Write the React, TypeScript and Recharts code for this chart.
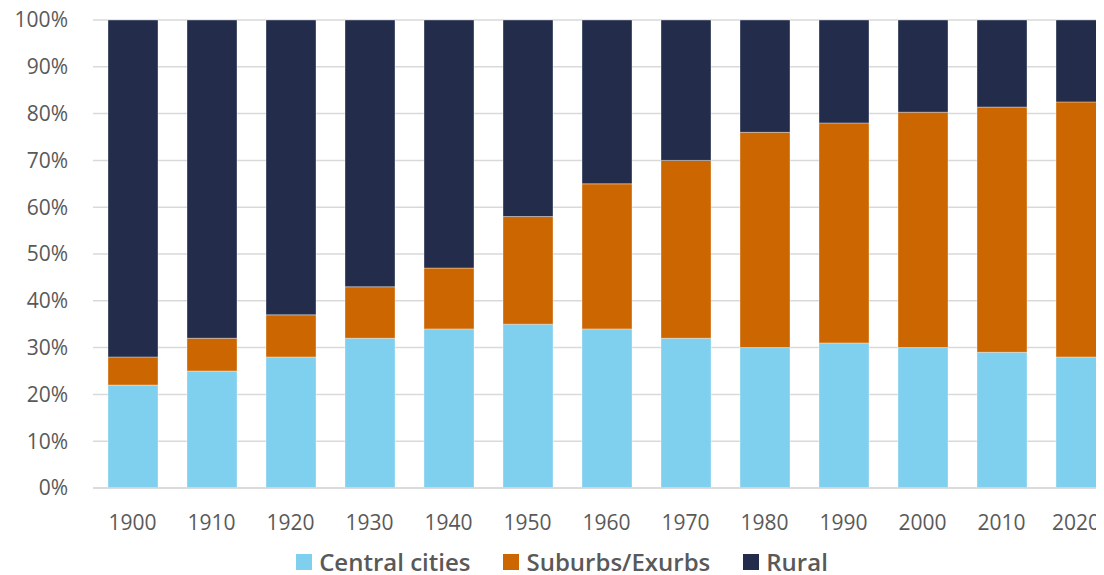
import { Bar, BarChart, CartesianGrid, Legend, XAxis, YAxis } from "recharts";

const YEARS = ["1900", "1910", "1920", "1930", "1940", "1950", "1960", "1970", "1980", "1990", "2000", "2010", "2020"];
const CENTRAL = [22, 25, 28, 32, 34, 35, 34, 32, 30, 31, 30, 29, 28];
const SUBURBS = [6, 7, 9, 11, 13, 23, 31, 38, 46, 47, 50.3, 52.4, 54.5];
const RURAL = [72, 68, 63, 57, 53, 42, 35, 30, 24, 22, 19.7, 18.6, 17.5];
const Y_TICKS = [0, 10, 20, 30, 40, 50, 60, 70, 80, 90, 100];

const SERIES = [
  { key: "central", name: "Central cities", color: "#7fcfee" },
  { key: "suburbs", name: "Suburbs/Exurbs", color: "#cc6600" },
  { key: "rural", name: "Rural", color: "#232d4b" },
];

const FONT = '"Open Sans", "Noto Sans", sans-serif';
const TEXT = "#595959";
const CHART_W = 1112;
const VISIBLE_W = 1096;

const data = YEARS.map((year, i) => ({
  year,
  central: CENTRAL[i],
  suburbs: SUBURBS[i],
  rural: RURAL[i],
}));

// the last year label gets pushed back inside the visible area, like the original does
function YearTick({ x, y, payload }: { x?: number; y?: number; payload?: { value: string } }) {
  const last = payload?.value === YEARS[YEARS.length - 1];
  const tx = last ? Math.min((x ?? 0) + 24, VISIBLE_W - 4) : x;
  return (
    <text
      x={tx}
      y={y}
      dy="0.71em"
      textAnchor={last ? "end" : "middle"}
      fill={TEXT}
      fontSize={21}
      fontFamily={FONT}
    >
      {payload?.value}
    </text>
  );
}

function LegendRow() {
  return (
    <div
      style={{
        display: "flex",
        justifyContent: "center",
        alignItems: "center",
        gap: 33,
        height: 42,
        paddingTop: 16,
        boxSizing: "border-box",
        paddingRight: 4,
        fontFamily: FONT,
        fontWeight: 600,
        fontSize: 24,
        lineHeight: "20px",
        color: TEXT,
      }}
    >
      {SERIES.map((s) => (
        <span key={s.key} style={{ display: "flex", alignItems: "center", gap: 7 }}>
          <span style={{ width: 16, height: 16, background: s.color, display: "inline-block" }} />
          {s.name}
        </span>
      ))}
    </div>
  );
}

export default function App() {
  return (
    <div style={{ width: VISIBLE_W, height: 567, overflowX: "clip", overflowY: "visible" }}>
      <style>{"html, body { overflow: hidden; } .recharts-surface { overflow: visible; }"}</style>
      <BarChart
        width={CHART_W}
        height={567}
        data={data}
        margin={{ top: 12, right: 0, left: 0, bottom: 0 }}
        barSize={50}
      >
        <CartesianGrid vertical={false} stroke="#d9d9d9" strokeWidth={1.5} />
        <XAxis
          dataKey="year"
          height={45}
          tickLine={false}
          tickSize={0}
          tickMargin={27}
          axisLine={{ stroke: "#d9d9d9", strokeWidth: 1.5 }}
          tick={YearTick}
          interval={0}
        />
        <YAxis
          width={85}
          domain={[0, 100]}
          ticks={Y_TICKS}
          tickFormatter={(v) => `${v}%`}
          axisLine={false}
          tickLine={false}
          tickSize={0}
          tickMargin={25}
          tick={{ fill: TEXT, fontSize: 21, fontFamily: FONT }}
          interval={0}
        />
        <Legend verticalAlign="bottom" height={42} content={LegendRow} />
        {SERIES.map((s) => (
          <Bar
            key={s.key}
            dataKey={s.key}
            name={s.name}
            stackId="a"
            fill={s.color}
            stroke="#ffffff"
            strokeOpacity={0.35}
            strokeWidth={1}
            isAnimationActive={false}
          />
        ))}
      </BarChart>
    </div>
  );
}
